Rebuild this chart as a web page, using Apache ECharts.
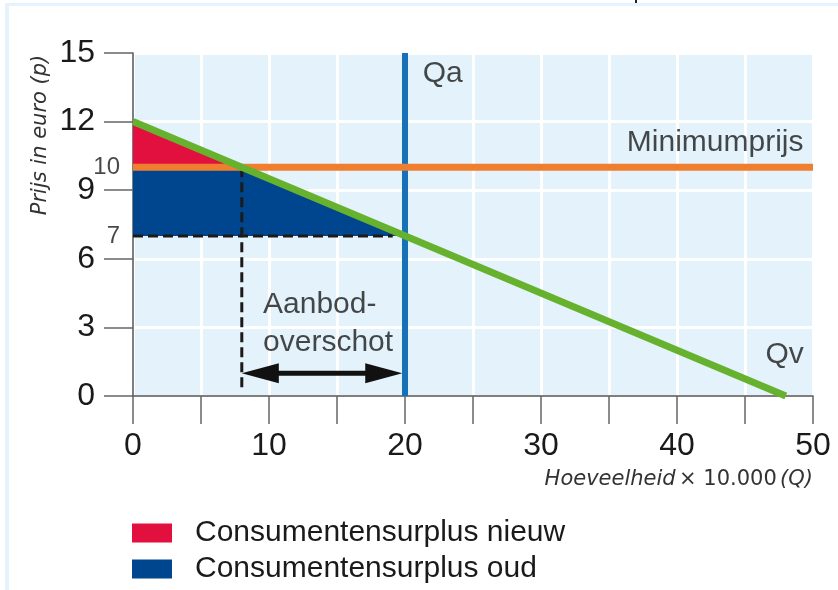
<!DOCTYPE html>
<html>
<head>
<meta charset="utf-8">
<script src="https://cdn.jsdelivr.net/npm/echarts@6/dist/echarts.min.js"></script>
<style>html,body{margin:0;padding:0;background:#fff}#c{width:838px;height:590px}</style>
</head>
<body>
<div id="c"></div>
<script>
// ---- data ----
var xTicks = [0, 10, 20, 30, 40, 50];
var yTicks = [0, 3, 6, 9, 12, 15];
var demandLine = [[0, 12], [48, 0]];              // Qv
var minPriceLine = [[0, 10], [50, 10]];           // Minimumprijs
var supplyQa = [[20, 0], [20, 15]];               // Qa
var surplusNew = [[0, 12], [0, 10], [8, 10]];     // Consumentensurplus nieuw
var surplusOld = [[0, 10], [8, 10], [20, 7], [0, 7]]; // Consumentensurplus oud
var dashH = [[0, 7], [19.1, 7]];
var dashV = [[8, 10], [8, 0.35]];
var arrowSpan = [[8, 1.0], [19.8, 1.0]];
var extraYLabels = [[0, 10, '10'], [0, 7, '7']];
var annotations = [
  [21.3, 14.1, 'Qa', 'left'],
  [49.3, 11.07, 'Minimumprijs', 'right'],
  [46.5, 1.8, 'Qv', 'left'],
  [9.56, 3.15, 'Aanbod-\noverschot', 'left']
];

var FONT = 'Liberation Sans, Arial, sans-serif';
var TXT = '#1a1a1a';
var chart = echarts.init(document.getElementById('c'), null, {renderer: 'canvas'});

function polySeries(name, pts, color) {
  return {
    name: name, type: 'custom', z: 2,
    itemStyle: {color: color},
    data: [0],
    renderItem: function (params, api) {
      return {type: 'polygon', shape: {points: pts.map(function (p) { return api.coord(p); })},
        style: {fill: color}};
    }
  };
}
function lineSeries(pts, color, width, z, dash) {
  return {
    type: 'line', data: pts, showSymbol: false, symbol: 'none', z: z, silent: true,
    lineStyle: {color: color, width: width, type: dash ? [10, 5] : 'solid', cap: 'butt'},
    animation: false
  };
}

var option = {
  animation: false,
  grid: {left: 133, top: 53, width: 680, height: 343, show: true, backgroundColor: '#e4f2fb', borderWidth: 0},
  xAxis: {
    type: 'value', min: 0, max: 50, interval: 5,
    axisLine: {show: true, lineStyle: {color: '#555', width: 1.5}},
    axisTick: {show: true, length: 28, lineStyle: {color: '#666', width: 1.5}},
    axisLabel: {fontFamily: FONT, fontSize: 32, color: TXT, margin: 34,
      formatter: function (v) { return xTicks.indexOf(v) >= 0 ? String(v) : ''; }},
    splitLine: {show: true, lineStyle: {color: '#ffffff', width: 3}},
    name: '{i|Hoeveelheid} {n|× 10.000} {i|(Q)}', nameLocation: 'end', nameGap: 0,
    nameTextStyle: {align: 'right', verticalAlign: 'top', padding: [73, 0, 0, 0],
      rich: {
        i: {fontFamily: 'DejaVu Sans', fontStyle: 'italic', fontSize: 21, color: '#333'},
        n: {fontFamily: 'DejaVu Sans', fontSize: 21, color: '#333'}
      }}
  },
  yAxis: {
    type: 'value', min: 0, max: 15, interval: 3,
    axisLine: {show: true, lineStyle: {color: '#555', width: 1.5}},
    axisTick: {show: true, length: 29, lineStyle: {color: '#666', width: 1.5}},
    axisLabel: {fontFamily: FONT, fontSize: 32, color: TXT, margin: 38,
      formatter: function (v) { return yTicks.indexOf(v) >= 0 ? String(v) : ''; }},
    splitLine: {show: true, lineStyle: {color: '#ffffff', width: 3}}
  },
  legend: {
    orient: 'vertical', left: 132, top: 518, padding: 0, itemWidth: 40, itemHeight: 19, itemGap: 6,
    icon: 'rect', selectedMode: false,
    textStyle: {fontFamily: FONT, fontSize: 30, color: TXT, padding: [0, 0, 0, 18], lineHeight: 29},
    data: ['Consumentensurplus nieuw', 'Consumentensurplus oud']
  },
  graphic: [
    {type: 'rect', shape: {x: 5, y: 3, width: 833, height: 3}, style: {fill: '#e6f2fc'}, silent: true},
    {type: 'rect', shape: {x: 5, y: 3, width: 4, height: 587}, style: {fill: '#e6f2fc'}, silent: true},
    {type: 'rect', shape: {x: 635, y: 0, width: 2, height: 3}, style: {fill: '#222'}, silent: true},
    {type: 'text', x: 41, y: 135, rotation: Math.PI / 2,
      style: {text: 'Prijs in euro (p)', font: 'italic 21px DejaVu Sans', fill: '#333', align: 'center', verticalAlign: 'middle'}}
  ],
  series: [
    polySeries('Consumentensurplus nieuw', surplusNew, '#e2103e'),
    polySeries('Consumentensurplus oud', surplusOld, '#00468e'),
    lineSeries(dashH, '#1a1a1a', 3, 3, true),
    lineSeries(dashV, '#1a1a1a', 3, 3, true),
    lineSeries(supplyQa, '#1671b8', 6, 4, false),
    lineSeries(minPriceLine, '#ef7f2f', 7, 5, false),
    lineSeries(demandLine, '#66b22f', 7, 6, false),
    {
      type: 'custom', z: 7, data: [0], silent: true,
      renderItem: function (params, api) {
        var a = api.coord(arrowSpan[0]), b = api.coord(arrowSpan[1]);
        var hl = 37, hw = 10;
        return {type: 'group', children: [
          {type: 'line', shape: {x1: a[0] + hl - 4, y1: a[1], x2: b[0] - hl + 4, y2: b[1]}, style: {stroke: '#111', lineWidth: 5}},
          {type: 'polygon', shape: {points: [[a[0], a[1]], [a[0] + hl, a[1] - hw], [a[0] + hl, a[1] + hw]]}, style: {fill: '#111'}},
          {type: 'polygon', shape: {points: [[b[0], b[1]], [b[0] - hl, b[1] - hw], [b[0] - hl, b[1] + hw]]}, style: {fill: '#111'}}
        ]};
      }
    },
    {
      type: 'scatter', z: 8, symbolSize: 0, silent: true,
      data: extraYLabels.map(function (d) { return {value: [d[0], d[1]], name: d[2]}; }),
      label: {show: true, position: [0, 0], offset: [-13, 0], align: 'right', verticalAlign: 'middle',
        formatter: function (p) { return p.name; }, fontFamily: FONT, fontSize: 24, color: TXT}
    },
    {
      type: 'scatter', z: 8, symbolSize: 0, silent: true,
      data: annotations.map(function (d) {
        return {value: [d[0], d[1]], name: d[2], label: {align: d[3]}};
      }),
      label: {show: true, position: [0, 0], verticalAlign: 'middle', lineHeight: 38,
        formatter: function (p) { return p.name; }, fontFamily: FONT, fontSize: 30, color: TXT}
    }
  ]
};
chart.setOption(option);
</script>
</body>
</html>
